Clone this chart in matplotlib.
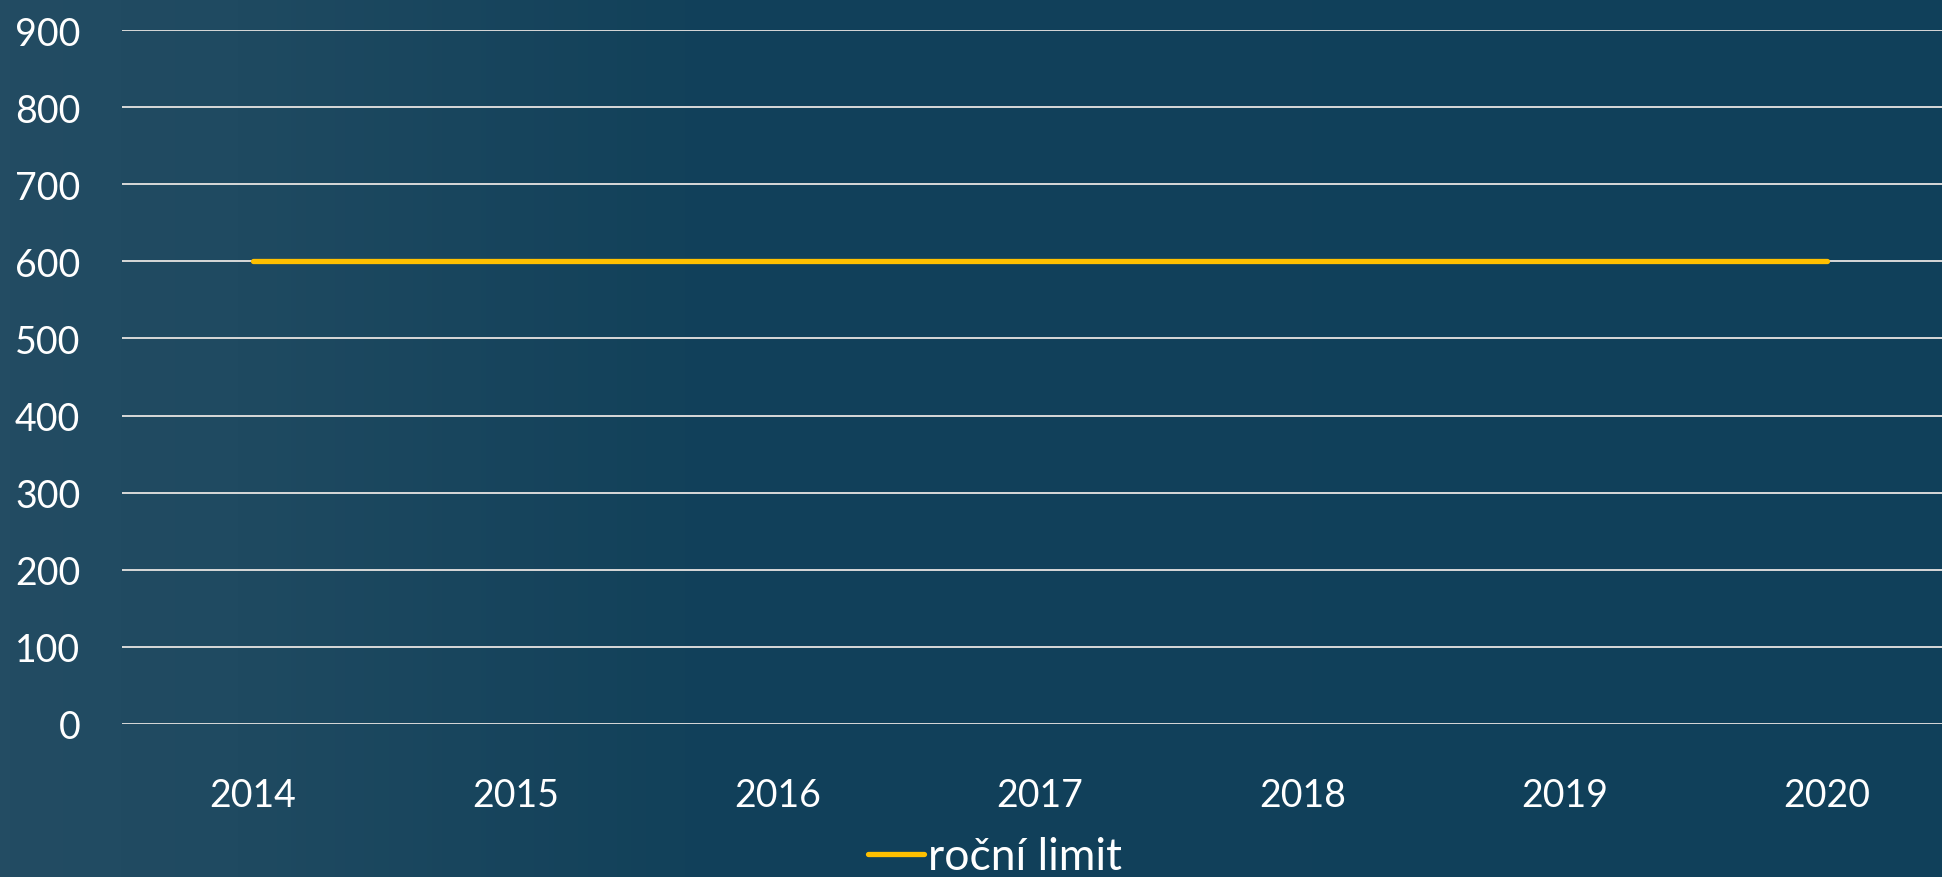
import matplotlib
matplotlib.use('Agg')
import matplotlib.pyplot as plt
import numpy as np
from matplotlib.colors import LinearSegmentedColormap

years = ['2014', '2015', '2016', '2017', '2018', '2019', '2020']
rocni_limit = [600, 600, 600, 600, 600, 600, 600]
y_ticks = [0, 100, 200, 300, 400, 500, 600, 700, 800, 900]

plt.rcParams['font.family'] = ['Lato', 'DejaVu Sans']

W, H = 1942, 878
fig = plt.figure(figsize=(W / 100, H / 100), dpi=100)
fig.patch.set_facecolor('#10405a')

# lighter left side of the slide background
bg = fig.add_axes([0, 0, 1, 1], zorder=-10)
grad = np.linspace(0, 1, 400).reshape(1, -1)
cmap = LinearSegmentedColormap.from_list(
    'bg', [(0, '#234c63'), (0.12, '#1f4a61'), (0.35, '#12415a'), (1, '#10405a')])
bg.imshow(grad, aspect='auto', cmap=cmap, extent=[0, 1, 0, 1])
bg.axis('off')

left = 122 / W
bottom = (H - 725) / H
ax = fig.add_axes([left, bottom, (1958 - 122) / W, (725 - 31) / H])
ax.set_facecolor('none')

x = np.arange(len(years))
ax.plot(x, rocni_limit, color='#ffc000', lw=3.8, solid_capstyle='round',
        label='roční limit', zorder=3)

ax.set_xlim(-0.5, len(years) - 0.5)
ax.set_ylim(0, 900)
ax.set_yticks(y_ticks)
ax.set_xticks(x)
ax.set_xticklabels(years)
ax.yaxis.grid(True, color='#d9d9d9', lw=1.4)
ax.set_axisbelow(True)
for s in ax.spines.values():
    s.set_visible(False)
ax.tick_params(axis='both', length=0, colors='white', labelsize=27)
ax.tick_params(axis='y', pad=30)
ax.tick_params(axis='x', pad=38)

fig.legend(loc='center', bbox_to_anchor=(995 / W, 1 - 858 / H), frameon=False,
           fontsize=32, labelcolor='white', handlelength=1.25,
           handletextpad=0.1, borderaxespad=0, borderpad=0)

fig.savefig('out.png', dpi=100, facecolor=fig.get_facecolor())
